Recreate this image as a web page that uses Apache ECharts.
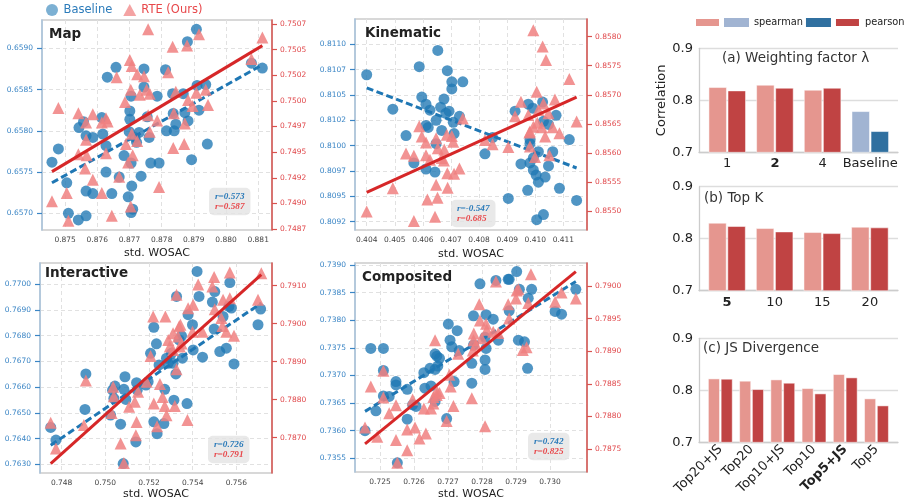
<!DOCTYPE html>
<html><head><meta charset="utf-8">
<script src="https://cdn.jsdelivr.net/npm/echarts@6/dist/echarts.min.js"></script>
<style>html,body{margin:0;padding:0;background:#fff}#c{width:913px;height:501px}</style>
</head><body><div id="c"></div>
<script>
// ---------------- DATA ----------------
const mapBaseline = [[0.87459,0.65762],[0.87479,0.65778],[0.87505,0.65737],[0.87510,0.65700],[0.87541,0.65692],[0.87543,0.65804],[0.87557,0.65811],[0.87565,0.65794],[0.87565,0.65727],[0.87565,0.65697],[0.87586,0.65792],[0.87586,0.65724],[0.87614,0.65816],[0.87617,0.65796],[0.87627,0.65782],[0.87627,0.65750],[0.87645,0.65724],[0.87631,0.65865],[0.87658,0.65877],[0.87668,0.65744],[0.87683,0.65770],[0.87696,0.65720],[0.87701,0.65824],[0.87701,0.65814],[0.87705,0.65842],[0.87705,0.65761],[0.87707,0.65733],[0.87710,0.65705],[0.87705,0.65701],[0.87730,0.65798],[0.87722,0.65786],[0.87736,0.65745],[0.87745,0.65875],[0.87745,0.65853],[0.87755,0.65817],[0.87761,0.65792],[0.87766,0.65761],[0.87786,0.65842],[0.87792,0.65761],[0.87812,0.65874],[0.87815,0.65800],[0.87834,0.65845],[0.87836,0.65821],[0.87839,0.65800],[0.87844,0.65808],[0.87867,0.65845],[0.87872,0.65822],[0.87882,0.65812],[0.87880,0.65908],[0.87908,0.65923],[0.87893,0.65765],[0.87910,0.65855],[0.87916,0.65825],[0.87937,0.65856],[0.87942,0.65784],[0.88079,0.65882],[0.88113,0.65876],[0.87717,0.65792],[0.87699,0.65799]];
const mapRTE = [[0.87459,0.74902],[0.87479,0.74993],[0.87505,0.74910],[0.87510,0.74883],[0.87541,0.74988],[0.87541,0.74948],[0.87562,0.74934],[0.87565,0.74979],[0.87565,0.74962],[0.87567,0.74947],[0.87586,0.74923],[0.87586,0.74987],[0.87614,0.74910],[0.87614,0.74979],[0.87627,0.74983],[0.87627,0.74949],[0.87632,0.74980],[0.87645,0.74888],[0.87660,0.75023],[0.87668,0.74926],[0.87686,0.74999],[0.87689,0.74958],[0.87696,0.74940],[0.87701,0.75040],[0.87707,0.75034],[0.87704,0.75011],[0.87707,0.74968],[0.87704,0.74897],[0.87710,0.74947],[0.87724,0.75026],[0.87724,0.74961],[0.87732,0.75006],[0.87745,0.75024],[0.87753,0.75011],[0.87758,0.74986],[0.87763,0.75007],[0.87758,0.75070],[0.87763,0.74970],[0.87786,0.74981],[0.87792,0.74916],[0.87820,0.75028],[0.87834,0.75053],[0.87836,0.74954],[0.87838,0.74988],[0.87844,0.75009],[0.87870,0.74958],[0.87872,0.74978],[0.87879,0.75054],[0.87882,0.75001],[0.87896,0.74995],[0.87908,0.75008],[0.87916,0.75065],[0.87937,0.75011],[0.87944,0.74996],[0.88079,0.75041],[0.88113,0.75062]];
const mapBaselineFit = [[0.87459,0.65737],[0.88113,0.65880]];
const mapRTEFit = [[0.87459,0.74931],[0.88113,0.75054]];
const mapR = [0.573, 0.587];

const kinBaseline = [[0.40400,0.81070],[0.40493,0.81036],[0.40540,0.81010],[0.40568,0.80983],[0.40587,0.81078],[0.40596,0.81048],[0.40611,0.81041],[0.40625,0.81035],[0.40611,0.81020],[0.40619,0.81018],[0.40611,0.80977],[0.40643,0.80974],[0.40647,0.81025],[0.40647,0.81002],[0.40653,0.81094],[0.40663,0.81038],[0.40667,0.81015],[0.40675,0.81046],[0.40687,0.81074],[0.40682,0.81032],[0.40693,0.81034],[0.40703,0.81063],[0.40703,0.81056],[0.40708,0.81023],[0.40711,0.81012],[0.40730,0.81029],[0.40742,0.81063],[0.40821,0.80992],[0.40848,0.81008],[0.40904,0.80948],[0.40928,0.81034],[0.40949,0.80982],[0.40975,0.81041],[0.40981,0.81006],[0.40991,0.81037],[0.40981,0.81002],[0.40981,0.80983],[0.40993,0.80976],[0.41003,0.80971],[0.41011,0.80964],[0.41011,0.80994],[0.41005,0.80927],[0.41026,0.81043],[0.41029,0.81024],[0.41035,0.80969],[0.41029,0.80932],[0.41047,0.81021],[0.41047,0.80980],[0.41062,0.80994],[0.41074,0.81030],[0.41086,0.80958],[0.41121,0.81006],[0.41147,0.80946],[0.40973,0.80956],[0.40993,0.80988]];
const kinRTE = [[0.40400,0.85499],[0.40493,0.85539],[0.40540,0.85599],[0.40568,0.85595],[0.40568,0.85483],[0.40587,0.85646],[0.40596,0.85628],[0.40611,0.85618],[0.40611,0.85596],[0.40616,0.85520],[0.40625,0.85588],[0.40647,0.85625],[0.40647,0.85545],[0.40652,0.85523],[0.40643,0.85490],[0.40653,0.85608],[0.40667,0.85591],[0.40675,0.85587],[0.40676,0.85606],[0.40685,0.85631],[0.40687,0.85565],[0.40688,0.85540],[0.40703,0.85629],[0.40708,0.85619],[0.40711,0.85564],[0.40730,0.85573],[0.40742,0.85659],[0.40821,0.85622],[0.40848,0.85615],[0.40904,0.85610],[0.40928,0.85663],[0.40949,0.85688],[0.40975,0.85665],[0.40979,0.85635],[0.40981,0.85611],[0.40993,0.85811],[0.40999,0.85593],[0.41005,0.85705],[0.41007,0.85652],[0.41026,0.85783],[0.41029,0.85685],[0.41035,0.85628],[0.41038,0.85760],[0.41047,0.85668],[0.41050,0.85596],[0.41062,0.85644],[0.41070,0.85692],[0.41086,0.85634],[0.41121,0.85727],[0.41147,0.85654],[0.40993,0.85645],[0.41011,0.85674],[0.40981,0.85637],[0.41023,0.85644]];
const kinBaselineFit = [[0.40400,0.81057],[0.41147,0.80978]];
const kinRTEFit = [[0.40400,0.85532],[0.41147,0.85696]];
const kinR = [-0.547, 0.685];

const intBaseline = [[0.74750,0.76443],[0.74774,0.76394],[0.74907,0.76513],[0.74911,0.76651],[0.75024,0.76491],[0.75033,0.76588],[0.75044,0.76604],[0.75039,0.76556],[0.75070,0.76456],[0.75085,0.76591],[0.75090,0.76640],[0.75094,0.76552],[0.75140,0.76387],[0.75143,0.76617],[0.75146,0.76588],[0.75186,0.76608],[0.75196,0.76621],[0.75207,0.76731],[0.75222,0.76832],[0.75222,0.76465],[0.75234,0.76768],[0.75237,0.76419],[0.75246,0.76686],[0.75268,0.76458],[0.75272,0.76591],[0.75280,0.76712],[0.75288,0.76692],[0.75314,0.76549],[0.75323,0.76651],[0.75326,0.76952],[0.75338,0.76783],[0.75349,0.76799],[0.75353,0.76712],[0.75374,0.76536],[0.75379,0.76881],[0.75399,0.76842],[0.75402,0.76744],[0.75420,0.77049],[0.75429,0.76952],[0.75445,0.76716],[0.75490,0.76930],[0.75498,0.76825],[0.75501,0.76971],[0.75524,0.76738],[0.75539,0.76874],[0.75554,0.76751],[0.75566,0.76913],[0.75570,0.77006],[0.75577,0.76907],[0.75589,0.76690],[0.75699,0.76842],[0.75711,0.76903],[0.75082,0.76303],[0.75310,0.76692],[0.75303,0.76731]];
const intRTE = [[0.74750,0.78739],[0.74774,0.78671],[0.74902,0.78733],[0.74911,0.78850],[0.75029,0.78765],[0.75036,0.78834],[0.75039,0.78809],[0.75070,0.78684],[0.75085,0.78633],[0.75109,0.78781],[0.75135,0.78794],[0.75140,0.78706],[0.75143,0.78741],[0.75150,0.78821],[0.75189,0.78847],[0.75207,0.78915],[0.75219,0.79019],[0.75222,0.78790],[0.75237,0.78730],[0.75250,0.78841],[0.75272,0.78783],[0.75275,0.79019],[0.75280,0.78759],[0.75288,0.78957],[0.75295,0.78940],[0.75310,0.78975],[0.75318,0.78783],[0.75326,0.78880],[0.75326,0.79076],[0.75333,0.78966],[0.75338,0.78993],[0.75344,0.78997],[0.75349,0.78948],[0.75376,0.78746],[0.75379,0.79041],[0.75399,0.78979],[0.75402,0.79050],[0.75425,0.79103],[0.75445,0.78979],[0.75490,0.79098],[0.75498,0.79123],[0.75501,0.79038],[0.75531,0.79015],[0.75536,0.78994],[0.75539,0.79063],[0.75554,0.78979],[0.75570,0.79135],[0.75570,0.79067],[0.75589,0.78968],[0.75699,0.79063],[0.75714,0.79133],[0.75262,0.78807],[0.75310,0.78931],[0.75341,0.78940]];
const intBaselineFit = [[0.74750,0.76374],[0.75714,0.76926]];
const intRTEFit = [[0.74750,0.78631],[0.75714,0.79129]];
const intR = [0.726, 0.791];

const comBaseline = [[0.72456,0.73600],[0.72488,0.73636],[0.72473,0.73749],[0.72510,0.73749],[0.72510,0.73709],[0.72510,0.73663],[0.72527,0.73662],[0.72547,0.73689],[0.72547,0.73683],[0.72551,0.73542],[0.72580,0.73675],[0.72580,0.73621],[0.72596,0.73647],[0.72606,0.73644],[0.72629,0.73705],[0.72632,0.73677],[0.72647,0.73713],[0.72650,0.73681],[0.72662,0.73739],[0.72662,0.73711],[0.72662,0.73653],[0.72667,0.73735],[0.72670,0.73717],[0.72675,0.73731],[0.72696,0.73622],[0.72701,0.73793],[0.72706,0.73764],[0.72711,0.73752],[0.72718,0.73689],[0.72727,0.73781],[0.72733,0.73745],[0.72770,0.73722],[0.72770,0.73686],[0.72775,0.73808],[0.72775,0.73755],[0.72794,0.73866],[0.72809,0.73711],[0.72809,0.73728],[0.72812,0.73810],[0.72812,0.73749],[0.72809,0.73769],[0.72833,0.73802],[0.72841,0.73872],[0.72848,0.73764],[0.72877,0.73874],[0.72880,0.73817],[0.72902,0.73888],[0.72907,0.73764],[0.72910,0.73856],[0.72925,0.73761],[0.72936,0.73840],[0.72934,0.73713],[0.72946,0.73856],[0.73015,0.73816],[0.73034,0.73811],[0.73076,0.73856],[0.72880,0.73874]];
const comRTE = [[0.72456,0.78783],[0.72473,0.78846],[0.72492,0.78769],[0.72510,0.78870],[0.72510,0.78829],[0.72527,0.78805],[0.72547,0.78817],[0.72547,0.78764],[0.72580,0.78780],[0.72580,0.78748],[0.72596,0.78826],[0.72603,0.78783],[0.72616,0.78766],[0.72629,0.78812],[0.72635,0.78774],[0.72650,0.78812],[0.72657,0.78820],[0.72657,0.78830],[0.72662,0.78917],[0.72667,0.78839],[0.72667,0.78833],[0.72675,0.78836],[0.72696,0.78793],[0.72704,0.78864],[0.72708,0.78846],[0.72716,0.78816],[0.72730,0.78896],[0.72770,0.78828],[0.72773,0.78901],[0.72776,0.78927],[0.72782,0.78910],[0.72792,0.78972],[0.72794,0.78947],[0.72799,0.78920],[0.72809,0.78785],[0.72812,0.78942],[0.72814,0.78933],[0.72833,0.78930],[0.72841,0.79007],[0.72848,0.78928],[0.72877,0.78972],[0.72880,0.78950],[0.72900,0.78981],[0.72902,0.78993],[0.72907,0.78995],[0.72920,0.78902],[0.72931,0.78906],[0.72936,0.78974],[0.72944,0.79018],[0.73015,0.78976],[0.73034,0.78990],[0.73076,0.78981],[0.72551,0.78729],[0.72775,0.78917]];
const comBaselineFit = [[0.72456,0.73635],[0.73076,0.73870]];
const comRTEFit = [[0.72456,0.78758],[0.73076,0.79022]];
const comR = [0.742, 0.825];

// tick values and labels
const mapXTicks = [0.875,0.876,0.877,0.878,0.879,0.880,0.881];
const mapXLabels = ['0.875','0.876','0.877','0.878','0.879','0.880','0.881'];
const mapLTicks = [0.6570,0.6575,0.6580,0.6585,0.6590];
const mapLLabels = ['0.6570','0.6575','0.6580','0.6585','0.6590'];
const mapRTicks = [0.74875,0.749,0.74925,0.7495,0.74975,0.75,0.75025,0.7505,0.75075];
const mapRLabels = ['0.7487','0.7490','0.7492','0.7495','0.7497','0.7500','0.7502','0.7505','0.7507'];

const kinXTicks = [0.404,0.405,0.406,0.407,0.408,0.409,0.410,0.411];
const kinXLabels = ['0.404','0.405','0.406','0.407','0.408','0.409','0.410','0.411'];
const kinLTicks = [0.80925,0.8095,0.80975,0.8100,0.81025,0.8105,0.81075,0.8110];
const kinLLabels = ['0.8092','0.8095','0.8097','0.8100','0.8102','0.8105','0.8107','0.8110'];
const kinRTicks = [0.8550,0.8555,0.8560,0.8565,0.8570,0.8575,0.8580];
const kinRLabels = ['0.8550','0.8555','0.8560','0.8565','0.8570','0.8575','0.8580'];

const intXTicks = [0.748,0.750,0.752,0.754,0.756];
const intXLabels = ['0.748','0.750','0.752','0.754','0.756'];
const intLTicks = [0.7630,0.7640,0.7650,0.7660,0.7670,0.7680,0.7690,0.7700];
const intLLabels = ['0.7630','0.7640','0.7650','0.7660','0.7670','0.7680','0.7690','0.7700'];
const intRTicks = [0.7870,0.7880,0.7890,0.7900,0.7910];
const intRLabels = ['0.7870','0.7880','0.7890','0.7900','0.7910'];

const comXTicks = [0.725,0.726,0.727,0.728,0.729,0.730];
const comXLabels = ['0.725','0.726','0.727','0.728','0.729','0.730'];
const comLTicks = [0.7355,0.7360,0.7365,0.7370,0.7375,0.7380,0.7385,0.7390];
const comLLabels = ['0.7355','0.7360','0.7365','0.7370','0.7375','0.7380','0.7385','0.7390'];
const comRTicks = [0.7875,0.7880,0.7885,0.7890,0.7895,0.7900];
const comRLabels = ['0.7875','0.7880','0.7885','0.7890','0.7895','0.7900'];

// bar panels
const lambdaCats = ['1','2','4','Baseline'];
const lambdaSpearman = [0.8250, 0.8295, 0.8199];
const lambdaPearson = [0.8186, 0.8237, 0.8237];
const baselineSpearman = 0.7788;
const baselinePearson = 0.7404;
const topKCats = ['5','10','15','20'];
const topKSpearman = [0.8303, 0.8200, 0.8123, 0.8226];
const topKPearson = [0.8239, 0.8135, 0.8103, 0.8213];
const jsCats = ['Top20+JS','Top20','Top10+JS','Top10','Top5+JS','Top5'];
const jsSpearman = [0.8224, 0.8180, 0.8205, 0.8038, 0.8308, 0.7840];
const jsPearson = [0.8218, 0.8019, 0.8141, 0.7936, 0.8244, 0.7705];
const barTicks = [0.7, 0.8, 0.9];

// ---------------- LAYOUT / STYLE ----------------
const FONT = 'DejaVu Sans';
const BLUE = '#1f77b4', RED = '#d62728', SALMON = '#f08080';
const LBLUE = '#3a85c5', LRED = '#e0484b';
const C_SP = '#e5968f', C_PE = '#c04343', C_BSP = '#a1b4d2', C_BPE = '#3070a0';

function lab(ticks, labels) {
  return function (v) {
    let bi = 0, bd = Infinity;
    ticks.forEach((t, i) => { const d = Math.abs(t - v); if (d < bd) { bd = d; bi = i; } });
    return labels[bi];
  };
}

const panels = [
  {name:'Map', grid:{left:42, top:20, width:230, height:210}, titlePos:[49,27], rPos:[209,187], nameGap:18,
   x:[0.87428,0.88143], xt:mapXTicks, xl:mapXLabels, l:[0.656798,0.659343], lt:mapLTicks, ll:mapLLabels,
   r:[0.74874,0.75079], rt:mapRTicks, rl:mapRLabels, base:mapBaseline, rte:mapRTE, bf:mapBaselineFit, rf:mapRTEFit, rv:mapR},
  {name:'Kinematic', grid:{left:355, top:19, width:232, height:211}, titlePos:[365,26], rPos:[451,199], nameGap:19,
   x:[0.403584,0.411840], xt:kinXTicks, xl:kinXLabels, l:[0.809168,0.811250], lt:kinLTicks, ll:kinLLabels,
   r:[0.854673,0.858304], rt:kinRTicks, rl:kinRLabels, base:kinBaseline, rte:kinRTE, bf:kinBaselineFit, rf:kinRTEFit, rv:kinR},
  {name:'Interactive', grid:{left:40, top:263, width:232, height:210}, titlePos:[45,266], rPos:[208,435], nameGap:16,
   x:[0.747010,0.757630], xt:intXTicks, xl:intXLabels, l:[0.762662,0.770818], lt:intLTicks, ll:intLLabels,
   r:[0.786066,0.791599], rt:intRTicks, rl:intRLabels, base:intBaseline, rte:intRTE, bf:intBaselineFit, rf:intRTEFit, rv:intR},
  {name:'Composited', grid:{left:355, top:263, width:232, height:209}, titlePos:[362,270], rPos:[528,432], nameGap:17,
   x:[0.724265,0.731088], xt:comXTicks, xl:comXLabels, l:[0.735253,0.739036], lt:comLTicks, ll:comLLabels,
   r:[0.787148,0.790353], rt:comRTicks, rl:comRLabels, base:comBaseline, rte:comRTE, bf:comBaselineFit, rf:comRTEFit, rv:comR}
];

const grid = [], xAxis = [], yAxis = [], series = [], title = [];
const dashed = {show:true, lineStyle:{color:'#e1e1e1', width:1, type:[4,3]}};

panels.forEach((p, i) => {
  grid.push(Object.assign({show:true, borderColor:'#cccccc', borderWidth:1.5, backgroundColor:'#fff', containLabel:false, outerBoundsMode:'none'}, p.grid));
  xAxis.push({type:'value', gridIndex:i, min:p.x[0], max:p.x[1],
    name:'std. WOSAC', nameLocation:'middle', nameGap:p.nameGap, nameTextStyle:{fontSize:11, color:'#222', fontFamily:FONT},
    axisLine:{show:false}, axisTick:{show:false, customValues:p.xt},
    axisLabel:{customValues:p.xt, formatter:lab(p.xt,p.xl), fontSize:7.5, color:'#444', margin:6, fontFamily:FONT, hideOverlap:false},
    splitLine:dashed});
  yAxis.push({type:'value', gridIndex:i, position:'left', min:p.l[0], max:p.l[1],
    axisLine:{show:true, onZero:false, lineStyle:{color:'#a9c4de', width:1.5}},
    axisTick:{show:true, length:5, customValues:p.lt, lineStyle:{color:LBLUE, width:1.2}},
    axisLabel:{customValues:p.lt, formatter:lab(p.lt,p.ll), fontSize:7.5, color:LBLUE, margin:9, fontFamily:FONT, hideOverlap:false},
    splitLine:dashed});
  yAxis.push({type:'value', gridIndex:i, position:'right', min:p.r[0], max:p.r[1],
    axisLine:{show:true, onZero:false, lineStyle:{color:'#d9534f', width:1.5}},
    axisTick:{show:true, length:5, customValues:p.rt, lineStyle:{color:'#d9534f', width:1.2}},
    axisLabel:{customValues:p.rt, formatter:lab(p.rt,p.rl), fontSize:7.5, color:LRED, margin:8, fontFamily:FONT, hideOverlap:false},
    splitLine:{show:false}});
  series.push({type:'scatter', name:'Baseline', xAxisIndex:i, yAxisIndex:2*i, data:p.base, symbol:'circle', symbolSize:11,
    itemStyle:{color:BLUE, opacity:0.78}, z:2, silent:true});
  series.push({type:'line', name:'Baseline fit', xAxisIndex:i, yAxisIndex:2*i, data:p.bf, showSymbol:false, symbol:'none',
    lineStyle:{color:BLUE, width:3, type:[7,3.5]}, z:3, silent:true});
  series.push({type:'scatter', name:'RTE (Ours)', xAxisIndex:i, yAxisIndex:2*i+1, data:p.rte, symbol:'triangle', symbolSize:12,
    itemStyle:{color:SALMON, opacity:0.85}, z:4, silent:true});
  series.push({type:'line', name:'RTE fit', xAxisIndex:i, yAxisIndex:2*i+1, data:p.rf, showSymbol:false, symbol:'none',
    lineStyle:{color:RED, width:3}, z:5, silent:true});
  title.push({text:p.name, left:p.titlePos[0], top:p.titlePos[1], padding:0,
    textStyle:{fontSize:13.5, fontWeight:'bold', color:'#222', fontFamily:FONT}});
  title.push({text:'{b|r=' + p.rv[0].toFixed(3) + '}\n{r|r=' + p.rv[1].toFixed(3) + '}', left:p.rPos[0], top:p.rPos[1],
    padding:[4,6], backgroundColor:'rgba(228,228,228,0.8)', borderRadius:5, z:10,
    textStyle:{rich:{
      b:{fontFamily:'Liberation Serif', fontStyle:'italic', fontWeight:'bold', fontSize:9.2, color:'#2a7ab9', lineHeight:10.5},
      r:{fontFamily:'Liberation Serif', fontStyle:'italic', fontWeight:'bold', fontSize:9.2, color:'#e8474a', lineHeight:10.5}}}});
});

// bar panels
const barPanels = [
  {top:48.3, barLeft:703.4, barWidthGrid:190.7, cats:lambdaCats, bold:1, sp:lambdaSpearman.concat([{value:baselineSpearman, itemStyle:{color:C_BSP}}]),
   pe:lambdaPearson.concat([{value:baselinePearson, itemStyle:{color:C_BPE}}]), bw:18, gap:'6%', rotate:0,
   title:'(a) Weighting factor λ', tpos:[722,51], yname:'Correlation'},
  {top:186.7, barLeft:703.2, barWidthGrid:190.5, cats:topKCats, bold:0, sp:topKSpearman, pe:topKPearson, bw:18, gap:'6%', rotate:0,
   title:'(b) Top K', tpos:[704,191]},
  {top:338.3, barLeft:704.7, barWidthGrid:187.4, cats:jsCats, bold:4, sp:jsSpearman, pe:jsPearson, bw:11.6, gap:'10%', rotate:45,
   title:'(c) JS Divergence', tpos:[703,341]}
];
barPanels.forEach((b, k) => {
  const gf = grid.length, gb = gf + 1;
  grid.push({left:699, top:b.top, width:199, height:104, containLabel:false, outerBoundsMode:'none'});
  grid.push({left:b.barLeft, top:b.top, width:b.barWidthGrid, height:104, containLabel:false, outerBoundsMode:'none'});
  const xf = xAxis.length;
  xAxis.push({type:'value', gridIndex:gf, min:0, max:1, axisLine:{show:true, onZero:false, lineStyle:{color:'#cccccc', width:1.3}},
    axisTick:{show:false}, axisLabel:{show:false}, splitLine:{show:false}});
  xAxis.push({type:'category', gridIndex:gb, data:b.cats.map((c, j) => j === b.bold ? {value:c, textStyle:{fontWeight:'bold'}} : c),
    axisLine:{show:false}, axisTick:{show:false},
    axisLabel:{interval:0, fontSize:13, color:'#222', margin:5, rotate:b.rotate, fontFamily:FONT, hideOverlap:false}});
  const yf = yAxis.length;
  yAxis.push({type:'value', gridIndex:gf, min:0.7, max:0.9, interval:0.1,
    name:b.yname || '', nameLocation:'middle', nameGap:29, nameTextStyle:{fontSize:13, color:'#222', fontFamily:FONT},
    axisLine:{show:true, lineStyle:{color:'#cccccc', width:1.3}}, axisTick:{show:false},
    axisLabel:{customValues:barTicks, formatter:v => v.toFixed(1), fontSize:13, color:'#222', margin:6, fontFamily:FONT},
    splitLine:{show:true, lineStyle:{color:'#dddddd', width:1.3}}});
  yAxis.push({type:'value', gridIndex:gb, min:0.7, max:0.9, show:false});
  series.push({type:'bar', name:'RTE spearman', xAxisIndex:xf+1, yAxisIndex:yf+1, data:b.sp, barWidth:b.bw, barGap:b.gap,
    itemStyle:{color:C_SP, borderColor:'#fff', borderWidth:0.5}, silent:true, z:2});
  series.push({type:'bar', name:'RTE pearson', xAxisIndex:xf+1, yAxisIndex:yf+1, data:b.pe, barWidth:b.bw, barGap:b.gap,
    itemStyle:{color:C_PE, borderColor:'#fff', borderWidth:0.5}, silent:true, z:2});
  if (k === 0) {
    series.push({type:'bar', name:'Baseline spearman', xAxisIndex:xf, yAxisIndex:yf, data:[], itemStyle:{color:C_BSP}});
    series.push({type:'bar', name:'Baseline pearson', xAxisIndex:xf, yAxisIndex:yf, data:[], itemStyle:{color:C_BPE}});
  }
  title.push({text:b.title, left:b.tpos[0], top:b.tpos[1], padding:0,
    textStyle:{fontSize:13.5, fontWeight:'normal', color:'#333', fontFamily:FONT}});
});

const legendNames = {'RTE spearman':'', 'Baseline spearman':'spearman', 'Baseline pearson':'', 'RTE pearson':'pearson'};

const option = {
  animation:false,
  backgroundColor:'#fff',
  textStyle:{fontFamily:FONT},
  title:title,
  legend:[
    {left:46, top:4, padding:0, itemWidth:13, itemHeight:12, itemGap:11, selectedMode:false,
     textStyle:{fontSize:11.5, fontFamily:FONT},
     data:[{name:'Baseline', icon:'circle', itemStyle:{color:'rgba(31,119,180,0.75)'}, textStyle:{color:'#2b7bba'}},
           {name:'RTE (Ours)', icon:'triangle', itemStyle:{color:'rgba(240,128,128,0.85)'}, textStyle:{color:'#e8474a'}}]},
    {left:694, top:17, padding:0, itemWidth:25, itemHeight:9, itemGap:3, selectedMode:false, icon:'rect',
     textStyle:{fontSize:9.8, color:'#222', fontFamily:FONT},
     formatter:n => legendNames[n],
     data:['RTE spearman','Baseline spearman','Baseline pearson','RTE pearson']}
  ],
  grid:grid, xAxis:xAxis, yAxis:yAxis, series:series
};

const chart = echarts.init(document.getElementById('c'), null, {renderer:'canvas'});
chart.setOption(option);
</script>
</body></html>
